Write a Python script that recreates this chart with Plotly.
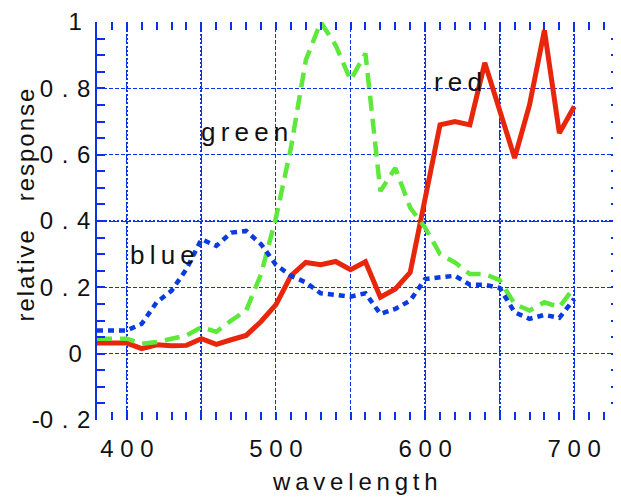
import plotly.graph_objects as go

# ---------------- data ----------------
wavelength = [380, 390, 400, 410, 420, 430, 440, 450, 460, 470, 480, 490, 500,
              510, 520, 530, 540, 550, 560, 570, 580, 590, 600, 610, 620, 630,
              640, 650, 660, 670, 680, 690, 700]

red = [0.032, 0.032, 0.032, 0.015, 0.027, 0.024, 0.025, 0.045, 0.028, 0.042,
       0.055, 0.097, 0.148, 0.235, 0.275, 0.268, 0.278, 0.253, 0.277, 0.170,
       0.195, 0.245, 0.460, 0.690, 0.700, 0.690, 0.877, 0.735, 0.590, 0.750,
       0.975, 0.665, 0.745]

green = [0.045, 0.045, 0.045, 0.030, 0.035, 0.045, 0.055, 0.080, 0.066, 0.100,
         0.130, 0.240, 0.410, 0.620, 0.885, 1.000, 0.930, 0.825, 0.905, 0.490,
         0.560, 0.440, 0.380, 0.300, 0.275, 0.240, 0.240, 0.222, 0.150, 0.130,
         0.155, 0.140, 0.200]

blue = [0.070, 0.070, 0.070, 0.090, 0.155, 0.190, 0.255, 0.345, 0.325, 0.365,
        0.370, 0.330, 0.268, 0.235, 0.215, 0.182, 0.178, 0.172, 0.182, 0.120,
        0.135, 0.160, 0.225, 0.230, 0.235, 0.208, 0.208, 0.198, 0.125, 0.105,
        0.117, 0.108, 0.165]

x_ticks = [400, 450, 500, 550, 600, 650, 700]
x_ticklabels = ["4 0 0", "", "5 0 0", "", "6 0 0", "", "7 0 0"]
x_dotted_grid = [400, 450, 600, 650, 700]

G = " \u200a"  # wide letter gap used in the y tick labels
y_ticks = [-0.2, 0.0, 0.2, 0.4, 0.6, 0.8, 1.0]
y_ticklabels = ["-0" + G + "." + G + "2", "0\u00a0\u200a",
                "0" + G + "." + G + "2", "0" + G + "." + G + "4",
                "0" + G + "." + G + "6", "0" + G + "." + G + "8", "1\u00a0\u200a"]
y_dotted_grid = [-0.2, 0.4, 1.0]

# ------------- styling ---------------
FONT = "Liberation Sans, Arial, Helvetica, sans-serif"
AXCOL = "#0a32e6"
RED = "#e8260c"
GREEN = "#5ee83c"
BLUE = "#0a3bdc"
TS = "\u2009"  # thin space for letter spacing


def spaced(s, sep=TS):
    return sep.join(list(s))


fig = go.Figure()

fig.add_trace(go.Scatter(x=wavelength, y=red, mode="lines",
                         line=dict(color=RED, width=5), showlegend=False))
fig.add_trace(go.Scatter(x=wavelength, y=green, mode="lines",
                         line=dict(color=GREEN, width=4.5, dash="15px,8px"),
                         showlegend=False))
fig.add_trace(go.Scatter(x=wavelength, y=blue, mode="lines",
                         line=dict(color=BLUE, width=4.5, dash="6px,5px"),
                         showlegend=False))
# invisible trace to carry the secondary (dotted) grid axes
fig.add_trace(go.Scatter(x=wavelength, y=red, mode="lines", xaxis="x2", yaxis="y2",
                         line=dict(width=0), opacity=0, hoverinfo="skip",
                         showlegend=False))

# the page body adds an 8px offset, so the figure is 8px smaller on each axis
fig.update_layout(
    width=613, height=489,
    margin=dict(l=89, r=0, t=12, b=77),
    paper_bgcolor="white", plot_bgcolor="white",
    font=dict(family=FONT, size=24, color="#111111"),
    xaxis=dict(
        range=[380, 730], tickvals=x_ticks, ticktext=x_ticklabels,
        showgrid=True, gridcolor=AXCOL, gridwidth=1, griddash="4px,2px",
        ticks="inside", ticklen=8, tickcolor=AXCOL, tickwidth=1.5,
        mirror="ticks", showline=False, zeroline=False,
        minor=dict(dtick=10, tick0=380, ticks="inside", ticklen=8,
                   tickcolor=AXCOL, tickwidth=1.5, showgrid=False),
        tickfont=dict(size=24, family=FONT, color="#111111"),
        ticklabelstandoff=12, ticklabeloverflow="allow",
    ),
    xaxis2=dict(
        overlaying="x", matches="x", tickvals=x_dotted_grid,
        showticklabels=False, ticks="", showline=False, zeroline=False,
        showgrid=True, gridcolor=AXCOL, gridwidth=2, griddash="2px,2px",
    ),
    yaxis=dict(
        range=[-0.2, 1.0], tickvals=y_ticks, ticktext=y_ticklabels,
        showgrid=True, gridcolor=AXCOL, gridwidth=1, griddash="4px,2px",
        ticks="inside", ticklen=8, tickcolor=AXCOL, tickwidth=1.5,
        showline=True, linecolor=AXCOL, linewidth=1.5,
        mirror="ticks", zeroline=False,
        minor=dict(dtick=0.05, tick0=0, ticks="inside", ticklen=8,
                   tickcolor=AXCOL, tickwidth=1.5, showgrid=False),
        tickfont=dict(size=24, family=FONT, color="#111111"),
        ticklabelstandoff=0, ticklabeloverflow="allow",
    ),
    yaxis2=dict(
        overlaying="y", matches="y", tickvals=y_dotted_grid,
        showticklabels=False, ticks="", showline=False, zeroline=False,
        showgrid=True, gridcolor=AXCOL, gridwidth=2, griddash="2px,2px",
    ),
)

annos = [
    dict(text=spaced("green"), x=479, y=0.667, size=26),
    dict(text=spaced("blue"), x=424, y=0.298, size=26),
    dict(text=spaced("red"), x=622, y=0.82, size=26),
]
for a in annos:
    fig.add_annotation(text=a["text"], x=a["x"], y=a["y"], xref="x", yref="y",
                       showarrow=False, xanchor="center", yanchor="middle",
                       font=dict(family=FONT, size=a["size"], color="#111111"))

# axis titles (letter-spaced, placed like the original)
fig.add_annotation(text=spaced("wavelength"), x=0.495, y=-0.155, xref="paper", yref="paper",
                   showarrow=False, xanchor="center", yanchor="middle",
                   font=dict(family=FONT, size=24, color="#111111"))
fig.add_annotation(text=spaced("relative", "\u200a") + "\u2003\u2009" + spaced("response", "\u200a"),
                   x=-0.137, y=0.54, xref="paper", yref="paper", textangle=-90,
                   showarrow=False, xanchor="center", yanchor="middle",
                   font=dict(family=FONT, size=24, color="#111111"))

fig.write_html("out.html")
